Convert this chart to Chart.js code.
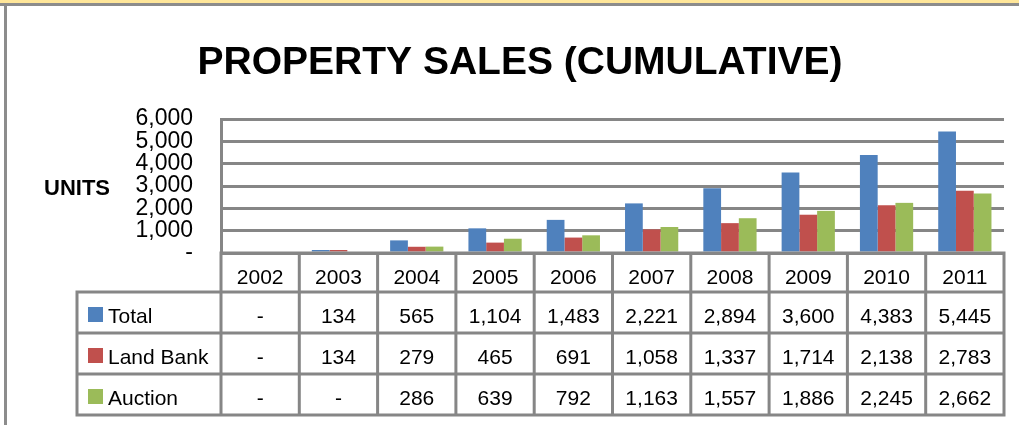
<!DOCTYPE html>
<html>
<head>
<meta charset="utf-8">
<script src="https://cdn.jsdelivr.net/npm/chart.js@4"></script>
<style>
  html, body { margin: 0; padding: 0; background: #ffffff; }
  #wrap { position: relative; width: 1019px; height: 425px; }
  canvas { display: block; }
</style>
</head>
<body>
<div id="wrap"><canvas id="c" width="1019" height="425"></canvas></div>
<script>
const chartTitle = 'PROPERTY SALES (CUMULATIVE)';
const axisTitle = 'UNITS';
const years = ['2002','2003','2004','2005','2006','2007','2008','2009','2010','2011'];
const totalSales = [0, 134, 565, 1104, 1483, 2221, 2894, 3600, 4383, 5445];
const landBankSales = [0, 134, 279, 465, 691, 1058, 1337, 1714, 2138, 2783];
const auctionSales = [0, 0, 286, 639, 792, 1163, 1557, 1886, 2245, 2662];
const seriesNames = ['Total', 'Land Bank', 'Auction'];
const seriesColors = ['#4F81BD', '#C0504D', '#9BBB59'];
const yTickValues = [0, 1000, 2000, 3000, 4000, 5000, 6000];

const FONT = '"Liberation Sans", Arial, sans-serif';
const GRID = '#868686';
const fmt = v => (v === 0 || v == null) ? '-' : v.toLocaleString('en-US');

const tablePlugin = {
  id: 'tablePlugin',
  beforeDraw(chart) {
    const ctx = chart.ctx;
    ctx.save();
    ctx.fillStyle = '#ffffff';
    ctx.fillRect(0, 0, chart.width, chart.height);
    // frame
    ctx.fillStyle = '#FFE699';
    ctx.fillRect(0, 0, chart.width, 3);
    ctx.fillStyle = '#8C8C8C';
    ctx.fillRect(0, 3, chart.width, 3);
    ctx.fillRect(4, 3, 3, chart.height - 3);
    ctx.restore();
  },
  afterDraw(chart) {
    const ctx = chart.ctx;
    const x = chart.scales.x;
    const ca = chart.chartArea;
    const n = years.length;
    const colW = (ca.right - ca.left) / n;
    const rowTops = [ca.bottom, 292, 333, 374, 415];
    const labelLeft = 77;
    ctx.save();
    // title
    ctx.fillStyle = '#000';
    ctx.font = 'bold 39px ' + FONT;
    ctx.textAlign = 'center';
    ctx.textBaseline = 'alphabetic';
    ctx.fillText(chartTitle, 520, 74);
    // axis title
    ctx.font = 'bold 22px ' + FONT;
    ctx.textAlign = 'left';
    ctx.fillText(axisTitle, 44, 195);

    // table lines
    ctx.strokeStyle = GRID;
    ctx.lineWidth = 3;
    ctx.beginPath();
    rowTops.forEach((yy, i) => {
      const l = i === 0 ? ca.left : labelLeft;
      ctx.moveTo(l - 1.5, yy);
      ctx.lineTo(ca.right + 1.5, yy);
    });
    for (let i = 0; i <= n; i++) {
      const cx = i < n ? x.getPixelForValue(i) - colW / 2 : x.getPixelForValue(n - 1) + colW / 2;
      ctx.moveTo(cx, rowTops[0]);
      ctx.lineTo(cx, rowTops[4] + 1.5);
    }
    ctx.moveTo(labelLeft, rowTops[1] - 1.5);
    ctx.lineTo(labelLeft, rowTops[4] + 1.5);
    ctx.stroke();

    // text
    ctx.fillStyle = '#000';
    ctx.font = '21px ' + FONT;
    ctx.textAlign = 'center';
    ctx.textBaseline = 'alphabetic';
    years.forEach((yr, i) => ctx.fillText(yr, x.getPixelForValue(i), 284));
    const baselines = [323, 364, 405];
    chart.data.datasets.forEach((ds, di) => {
      ds.data.forEach((v, i) => {
        ctx.fillText(fmt(v), x.getPixelForValue(i), baselines[di]);
      });
      ctx.fillStyle = ds.backgroundColor;
      ctx.fillRect(88, baselines[di] - 16, 15, 15);
      ctx.fillStyle = '#000';
      ctx.textAlign = 'left';
      ctx.fillText(ds.label, 108, baselines[di]);
      ctx.textAlign = 'center';
    });
    ctx.restore();
  }
};

new Chart(document.getElementById('c'), {
  type: 'bar',
  data: {
    labels: years,
    datasets: [
      { label: seriesNames[0], data: totalSales, backgroundColor: seriesColors[0] },
      { label: seriesNames[1], data: landBankSales, backgroundColor: seriesColors[1] },
      { label: seriesNames[2], data: auctionSales, backgroundColor: seriesColors[2] }
    ]
  },
  options: {
    responsive: false,
    animation: false,
    events: [],
    layout: { padding: { top: 119, bottom: 172, right: 15, left: 0 } },
    datasets: { bar: { categoryPercentage: 0.68, barPercentage: 1.0 } },
    plugins: { legend: { display: false }, title: { display: false }, tooltip: { enabled: false } },
    scales: {
      x: { display: false, offset: true, grid: { display: false } },
      y: {
        min: 0, max: 6000,
        afterFit(scale) { scale.width = 221; },
        afterBuildTicks(scale) { scale.ticks = yTickValues.map(v => ({ value: v })); },
        ticks: {
          color: '#000',
          font: { family: FONT, size: 23, lineHeight: 1 },
          padding: 28,
          autoSkip: false,
          callback: v => fmt(v)
        },
        grid: { color: GRID, lineWidth: 3, drawTicks: false },
        border: { color: GRID, width: 3 }
      }
    }
  },
  plugins: [tablePlugin]
});
</script>
</body>
</html>
